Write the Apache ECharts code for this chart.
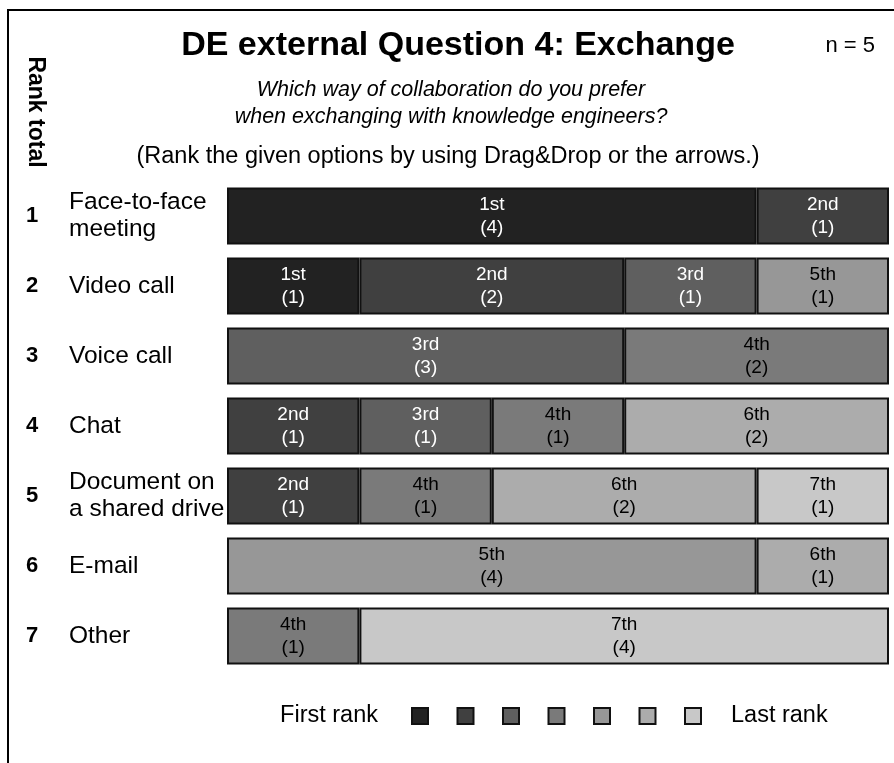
<!DOCTYPE html>
<html>
<head>
<meta charset="utf-8">
<script src="https://cdn.jsdelivr.net/npm/echarts@6/dist/echarts.min.js"></script>
<style>
  html, body { margin: 0; padding: 0; background: #fff; }
  #chart { width: 894px; height: 763px; }
</style>
</head>
<body>
<div id="chart"></div>
<script>
// ---- data ----
const categories = ['Face-to-face\nmeeting', 'Video call', 'Voice call', 'Chat', 'Document on\na shared drive', 'E-mail', 'Other'];
const rankTotal = ['1', '2', '3', '4', '5', '6', '7'];
const rankNames = ['1st', '2nd', '3rd', '4th', '5th', '6th', '7th'];
const rank1 = [4, 1, 0, 0, 0, 0, 0];
const rank2 = [1, 2, 0, 1, 1, 0, 0];
const rank3 = [0, 1, 3, 1, 0, 0, 0];
const rank4 = [0, 0, 2, 1, 1, 0, 1];
const rank5 = [0, 1, 0, 0, 0, 4, 0];
const rank6 = [0, 0, 0, 2, 2, 1, 0];
const rank7 = [0, 0, 0, 0, 1, 0, 4];
const rankValues = [rank1, rank2, rank3, rank4, rank5, rank6, rank7];
const nRespondents = 5;

// ---- styles ----
const colors = ['#222222', '#404040', '#5f5f5f', '#7a7a7a', '#979797', '#acacac', '#c8c8c8'];
const labelColors = ['#fff', '#fff', '#fff', '#000', '#000', '#000', '#000'];
const FONT = '"Liberation Sans", Arial, Helvetica, sans-serif';

const series = rankNames.map((name, i) => ({
  name: name,
  type: 'bar',
  stack: 'total',
  barWidth: 57,
  data: rankValues[i].map(v => (v === 0 ? '-' : v)),
  itemStyle: { color: colors[i], borderColor: '#111', borderWidth: 2 },
  label: {
    show: true,
    position: 'inside',
    formatter: p => p.seriesName + '\n(' + p.value + ')',
    color: labelColors[i],
    fontFamily: FONT,
    fontSize: 19,
    lineHeight: 23
  },
  emphasis: { disabled: true }
}));

const chart = echarts.init(document.getElementById('chart'), null, { renderer: 'canvas' });
chart.setOption({
  animation: false,
  backgroundColor: '#fff',
  grid: { left: 227, right: 5, top: 181, height: 490, containLabel: false },
  xAxis: {
    type: 'value', min: 0, max: nRespondents, show: false
  },
  yAxis: [
    {
      type: 'category', data: categories, inverse: true,
      axisLine: { show: false }, axisTick: { show: false }, splitLine: { show: false },
      axisLabel: {
        align: 'left', margin: 158, color: '#000',
        fontFamily: FONT, fontSize: 24.5, lineHeight: 27
      }
    },
    {
      type: 'category', data: rankTotal, inverse: true, position: 'left',
      axisLine: { show: false }, axisTick: { show: false }, splitLine: { show: false },
      axisLabel: {
        align: 'center', margin: 195, color: '#000',
        fontFamily: FONT, fontSize: 22, fontWeight: 'bold'
      }
    }
  ],
  legend: {
    data: rankNames,
    left: 406, top: 702,
    itemWidth: 16, itemHeight: 16, itemGap: 27.5,
    icon: 'rect',
    formatter: () => '',
    itemStyle: { borderColor: '#111', borderWidth: 2 },
    selectedMode: false
  },
  series: series,
  graphic: [
    { type: 'line', shape: { x1: 7, y1: 10, x2: 894, y2: 10 }, style: { stroke: '#000', lineWidth: 2 } },
    { type: 'line', shape: { x1: 8, y1: 10, x2: 8, y2: 763 }, style: { stroke: '#000', lineWidth: 2 } },
    { type: 'text', x: 458, y: 46, style: { text: 'DE external Question 4: Exchange', font: 'bold 34px ' + FONT, fill: '#000', align: 'center', verticalAlign: 'middle' } },
    { type: 'text', x: 875, y: 46, style: { text: 'n = ' + nRespondents, font: '22px ' + FONT, fill: '#000', align: 'right', verticalAlign: 'middle' } },
    { type: 'text', x: 451, y: 104, style: { text: 'Which way of collaboration do you prefer\nwhen exchanging with knowledge engineers?', font: 'italic 21.5px ' + FONT, lineHeight: 27, fill: '#000', align: 'center', verticalAlign: 'middle' } },
    { type: 'text', x: 448, y: 157, style: { text: '(Rank the given options by using Drag&Drop or the arrows.)', font: '23.5px ' + FONT, fill: '#000', align: 'center', verticalAlign: 'middle' } },
    { type: 'text', x: 35, y: 112, rotation: -Math.PI / 2, style: { text: 'Rank total', font: 'bold 23px ' + FONT, fill: '#000', align: 'center', verticalAlign: 'middle' } },
    { type: 'text', x: 378, y: 716, style: { text: 'First rank', font: '23.5px ' + FONT, fill: '#000', align: 'right', verticalAlign: 'middle' } },
    { type: 'text', x: 731, y: 716, style: { text: 'Last rank', font: '23.5px ' + FONT, fill: '#000', align: 'left', verticalAlign: 'middle' } }
  ]
});
</script>
</body>
</html>
